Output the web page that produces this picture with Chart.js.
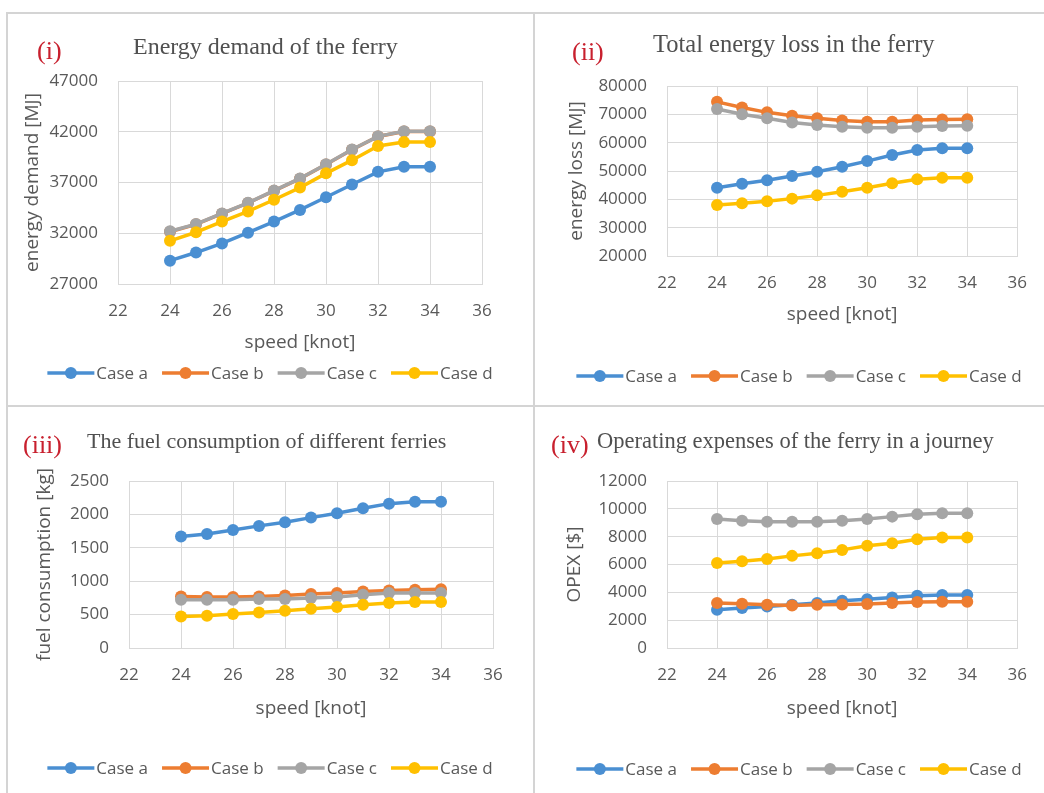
<!DOCTYPE html>
<html>
<head>
<meta charset="utf-8">
<script src="https://cdn.jsdelivr.net/npm/chart.js@4.4.1/dist/chart.umd.min.js"></script>
<style>
  html, body { margin: 0; padding: 0; background: #fff; }
  body { width: 1044px; height: 793px; position: relative; overflow: hidden; }
  canvas { position: absolute; }
  .rule { position: absolute; background: #d4d4d4; }
</style>
</head>
<body>
<div class="rule" style="left:6px;top:12px;width:1038px;height:2px"></div>
<div class="rule" style="left:6px;top:12px;width:2px;height:781px"></div>
<div class="rule" style="left:533px;top:12px;width:2px;height:781px"></div>
<div class="rule" style="left:6px;top:405px;width:1038px;height:2px"></div>

<canvas id="c1" width="527" height="393" style="left:7px;top:13px"></canvas>
<canvas id="c2" width="510" height="393" style="left:534px;top:13px"></canvas>
<canvas id="c3" width="527" height="387" style="left:7px;top:406px"></canvas>
<canvas id="c4" width="510" height="387" style="left:534px;top:406px"></canvas>

<script>
// Datos
const speeds = [24, 25, 26, 27, 28, 29, 30, 31, 32, 33, 34];
const caseLabels = ['Case a', 'Case b', 'Case c', 'Case d'];

// (i) energy demand [MJ]
const demandA = [29300, 30100, 31000, 32050, 33150, 34300, 35550, 36800, 38050, 38550, 38550];
const demandB = [32150, 32880, 33930, 34980, 36180, 37380, 38780, 40230, 41530, 42030, 42030];
const demandC = [32200, 32900, 33950, 35000, 36200, 37400, 38800, 40250, 41550, 42050, 42050];
const demandD = [31250, 32100, 33150, 34150, 35300, 36500, 37900, 39200, 40600, 41000, 41000];

// (ii) energy loss [MJ]
const lossA = [44100, 45500, 46700, 48200, 49750, 51500, 53500, 55650, 57400, 58000, 58000];
const lossB = [74400, 72400, 70700, 69500, 68600, 67800, 67400, 67400, 68000, 68200, 68300];
const lossC = [71900, 70000, 68600, 67100, 66200, 65650, 65300, 65300, 65650, 65900, 66000];
const lossD = [38000, 38600, 39300, 40250, 41400, 42700, 44100, 45650, 47050, 47650, 47650];

// (iii) fuel consumption [kg]
const fuelA = [1668, 1708, 1768, 1828, 1882, 1952, 2017, 2092, 2161, 2191, 2191];
const fuelB = [772, 762, 762, 772, 787, 807, 822, 847, 862, 872, 881];
const fuelC = [722, 722, 722, 732, 732, 747, 762, 797, 822, 822, 822];
const fuelD = [473, 483, 508, 533, 558, 588, 613, 647, 672, 687, 687];

// (iv) OPEX [$]
const opexA = [2750, 2870, 2990, 3110, 3230, 3390, 3510, 3630, 3750, 3800, 3800];
const opexB = [3230, 3180, 3110, 3060, 3110, 3130, 3155, 3230, 3300, 3320, 3320];
const opexC = [9270, 9150, 9080, 9080, 9080, 9150, 9270, 9440, 9610, 9680, 9680];
const opexD = [6100, 6240, 6400, 6620, 6810, 7050, 7340, 7530, 7820, 7940, 7940];

const xMin = 22, xMax = 36, xStep = 2;
const colors = ['#4a8fd2', '#ed7d31', '#a5a5a5', '#ffc000'];
const textGray = '#595959';
const gridGray = '#d9d9d9';

// Título con etiqueta roja y leyenda de línea con marcador
const panelText = {
    id: 'panelText',
    afterDraw(chart, args, o) {
        const ctx = chart.ctx;
        ctx.save();
        ctx.textAlign = 'left';
        ctx.textBaseline = 'alphabetic';
        ctx.font = o.tagSize + 'px "Liberation Serif"';
        ctx.fillStyle = '#c8202e';
        ctx.fillText(o.tag, o.tagX, o.tagY);
        ctx.font = o.titleSize + 'px "Liberation Serif"';
        ctx.fillStyle = '#505050';
        ctx.fillText(o.title, o.titleX, o.titleY);

        ctx.font = '17px "Open Sans"';
        const items = chart.data.datasets.map(ds => ({
            label: ds.label, color: ds.borderColor, w: ctx.measureText(ds.label).width
        }));
        const lineW = 47, gapText = 2, gapItem = 14;
        const total = items.reduce((s, it) => s + lineW + gapText + it.w, 0) + gapItem * (items.length - 1);
        let x = o.legendX - total / 2;
        const y = o.legendY;
        ctx.textBaseline = 'middle';
        items.forEach(it => {
            ctx.strokeStyle = it.color;
            ctx.lineWidth = 3.5;
            ctx.beginPath();
            ctx.moveTo(x, y);
            ctx.lineTo(x + lineW, y);
            ctx.stroke();
            ctx.fillStyle = it.color;
            ctx.beginPath();
            ctx.arc(x + lineW / 2, y, 6, 0, Math.PI * 2);
            ctx.fill();
            x += lineW + gapText;
            ctx.fillStyle = textGray;
            ctx.fillText(it.label, x, y + 1);
            x += it.w + gapItem;
        });
        ctx.restore();
    }
};

function crearGrafico(p) {
    const ctx = document.getElementById(p.id).getContext('2d');
    const datasets = p.series.map((vals, i) => ({
        label: caseLabels[i],
        data: speeds.map((s, j) => ({ x: s, y: vals[j] })),
        borderColor: colors[i],
        backgroundColor: colors[i],
        order: 4 - i
    }));
    new Chart(ctx, {
        type: 'line',
        data: { datasets: datasets },
        plugins: [panelText],
        options: {
            responsive: false,
            animation: false,
            devicePixelRatio: 1,
            layout: {
                padding: { left: 0, top: p.top, right: p.cw - p.right, bottom: p.ch - p.bottom - p.xH }
            },
            elements: {
                line: { borderWidth: 3.5, tension: 0 },
                point: { radius: 6, borderWidth: 0, hoverRadius: 6 }
            },
            plugins: {
                legend: { display: false },
                tooltip: { enabled: false },
                panelText: p.text
            },
            scales: {
                x: {
                    type: 'linear',
                    min: xMin, max: xMax,
                    ticks: { stepSize: xStep, padding: 17, color: textGray, font: { family: 'Open Sans', size: 17 } },
                    grid: { color: gridGray, drawTicks: false },
                    border: { color: gridGray },
                    title: { display: true, text: 'speed [knot]', color: textGray, padding: 0, font: { family: 'Open Sans', size: 19 } },
                    afterFit: s => { s.height = p.xH; }
                },
                y: {
                    min: p.yMin, max: p.yMax,
                    ticks: {
                        stepSize: p.yStep, padding: 20, color: textGray,
                        font: { family: 'Open Sans', size: 17 },
                        callback: v => String(v)
                    },
                    grid: { color: gridGray, drawTicks: false },
                    border: { color: gridGray },
                    title: { display: true, text: p.yTitle, color: textGray, padding: { top: p.yPad, bottom: 0 }, font: { family: 'Open Sans', size: 19 } },
                    afterFit: s => { s.width = p.left; }
                }
            }
        }
    });
}

crearGrafico({
    id: 'c1', cw: 527, ch: 393, left: 111, right: 475, top: 68, bottom: 271, xH: 70, yPad: 14.6,
    yMin: 27000, yMax: 47000, yStep: 5000, yTitle: 'energy demand [MJ]',
    series: [demandA, demandB, demandC, demandD],
    text: { tag: '(i)', tagX: 30, tagY: 46, tagSize: 26, title: 'Energy demand of the ferry', titleX: 126, titleY: 41, titleSize: 24, legendX: 263, legendY: 360 }
});
crearGrafico({
    id: 'c2', cw: 510, ch: 393, left: 133, right: 489, top: 73, bottom: 243, xH: 70, yPad: 31.6,
    yMin: 20000, yMax: 80000, yStep: 10000, yTitle: 'energy loss [MJ]',
    series: [lossA, lossB, lossC, lossD],
    text: { tag: '(ii)', tagX: 38, tagY: 47, tagSize: 26, title: 'Total energy loss in the ferry', titleX: 119, titleY: 39, titleSize: 24.5, legendX: 265, legendY: 363 }
});
crearGrafico({
    id: 'c3', cw: 527, ch: 387, left: 122, right: 486, top: 75, bottom: 242, xH: 72, yPad: 26.6,
    yMin: 0, yMax: 2500, yStep: 500, yTitle: 'fuel consumption [kg]',
    series: [fuelA, fuelB, fuelC, fuelD],
    text: { tag: '(iii)', tagX: 16, tagY: 47, tagSize: 26, title: 'The fuel consumption of different ferries', titleX: 80, titleY: 42, titleSize: 22, legendX: 263, legendY: 362 }
});
crearGrafico({
    id: 'c4', cw: 510, ch: 387, left: 133, right: 489, top: 75, bottom: 242, xH: 72, yPad: 29.6,
    yMin: 0, yMax: 12000, yStep: 2000, yTitle: 'OPEX [$]',
    series: [opexA, opexB, opexC, opexD],
    text: { tag: '(iv)', tagX: 17, tagY: 47, tagSize: 26, title: 'Operating expenses of the ferry in a journey', titleX: 63, titleY: 42, titleSize: 22.5, legendX: 265, legendY: 363 }
});
</script>
</body>
</html>
